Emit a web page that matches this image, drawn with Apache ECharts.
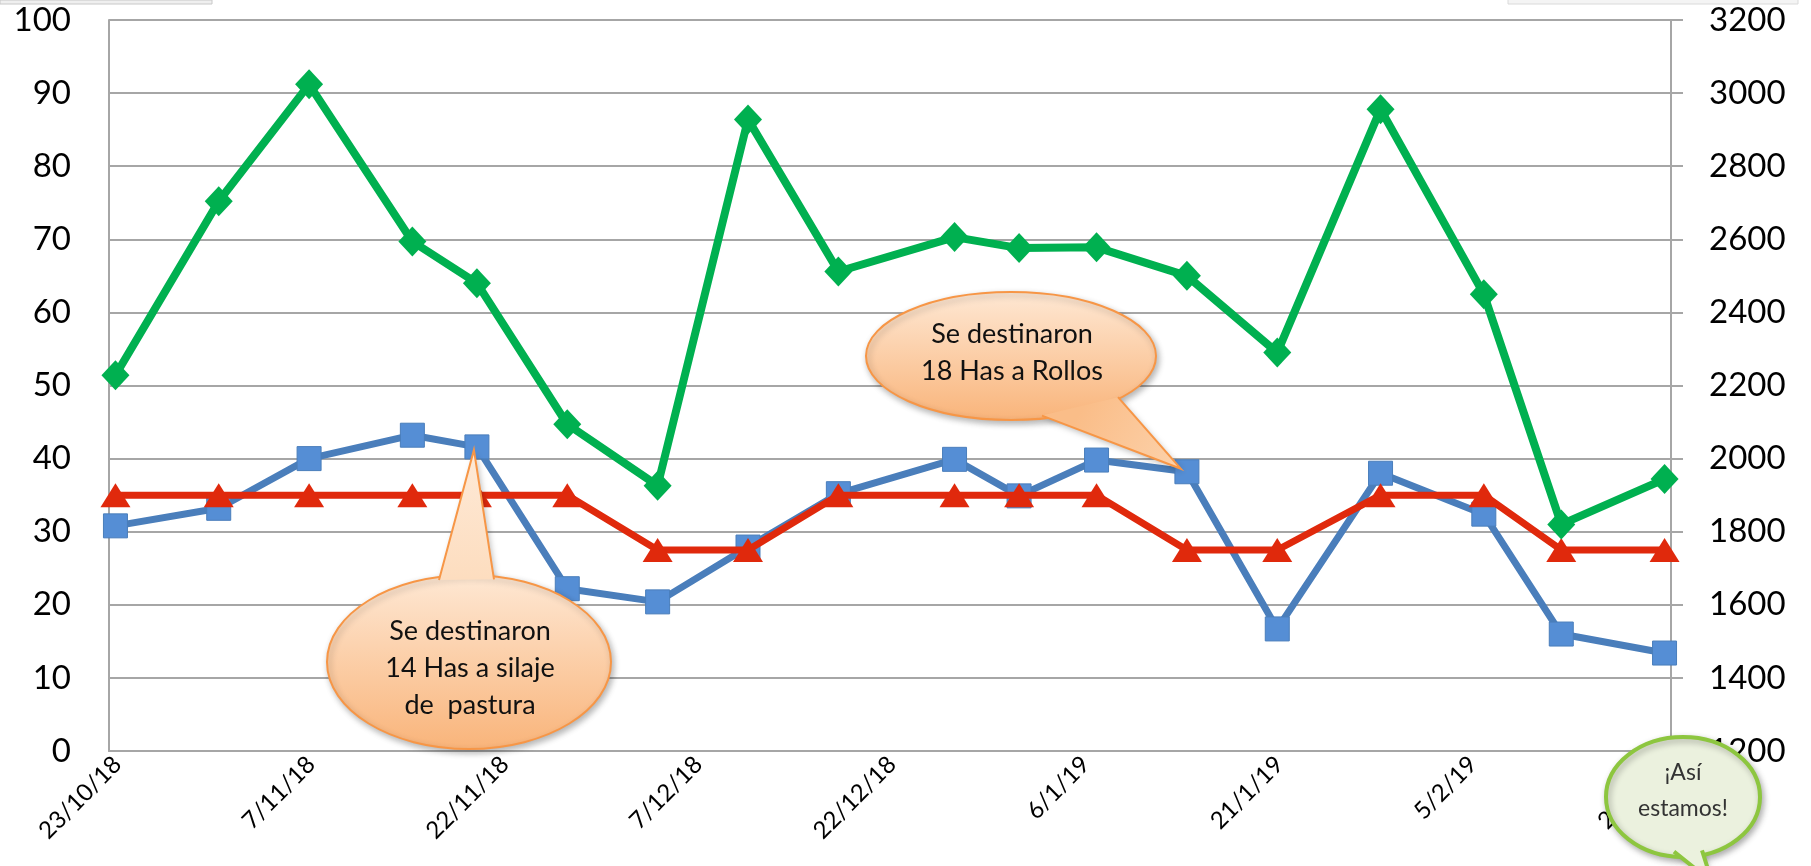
<!DOCTYPE html>
<html>
<head>
<meta charset="utf-8">
<script src="https://cdn.jsdelivr.net/npm/echarts@6/dist/echarts.min.js"></script>
<style>
html,body{margin:0;padding:0;background:#fff;}
#chart{width:1811px;height:866px;}
</style>
</head>
<body>
<div id="chart"></div>
<script>
// ---- data ----
const baseDate = '2018-10-23';
const xTickLabels = ['23/10/18','7/11/18','22/11/18','7/12/18','22/12/18','6/1/19','21/1/19','5/2/19','20/2/19'];
const dates = ['2018-10-23','2018-10-31','2018-11-07','2018-11-15','2018-11-20','2018-11-27','2018-12-04','2018-12-11','2018-12-18','2018-12-27','2019-01-01','2019-01-07','2019-01-14','2019-01-21','2019-01-29','2019-02-06','2019-02-12','2019-02-20'];
const growth = [30.8,33.2,40.0,43.2,41.6,22.2,20.4,27.9,35.2,39.9,34.9,39.8,38.2,16.7,38.0,32.4,16.0,13.4];
const demand = [35,35,35,35,35,35,27.5,27.5,35,35,35,35,27.5,27.5,35,35,27.5,27.5];
const cover = [2228,2704,3024,2594,2480,2094,1926,2928,2512,2606,2576,2578,2500,2290,2956,2450,1820,1944];
const leftTicks = {min:0, max:100, interval:10};
const rightTicks = {min:1200, max:3200, interval:200};
const note1 = ['Se destinaron','14 Has a silaje','de  pastura'];
const note2 = ['Se destinaron','18 Has a Rollos'];
const note3 = ['¡Así','estamos!'];

// ---- helpers ----
const DAY = 86400000;
function dayOf(s){ const p = s.split('-').map(Number); const b = baseDate.split('-').map(Number);
  return (Date.UTC(p[0],p[1]-1,p[2]) - Date.UTC(b[0],b[1]-1,b[2]))/DAY; }
// Excel date axis: each day occupies one unit, point drawn at the middle of its day
const xs = dates.map(d => dayOf(d) + 0.5);
const pts = arr => arr.map((v,i) => [xs[i], v]);

const FONT = 'Lato, "Open Sans", sans-serif';
const chart = echarts.init(document.getElementById('chart'), null, {renderer:'canvas'});

const option = {
  animation:false,
  backgroundColor:'#ffffff',
  grid:{left:109, right:140, top:20, bottom:115, containLabel:false},
  xAxis:{
    type:'value', min:0, max:121, interval:15,
    axisLine:{show:true, lineStyle:{color:'#A6A6A6', width:2}},
    axisTick:{show:false},
    splitLine:{show:false},
    axisLabel:{
      rotate:45, margin:1, fontSize:24, color:'#000', fontFamily:FONT,
      verticalAlign:'top',
      showMaxLabel:false,
      formatter: v => (v % 15 === 0 && xTickLabels[v/15]) ? xTickLabels[v/15] : ''
    }
  },
  yAxis:[
    {type:'value', min:leftTicks.min, max:leftTicks.max, interval:leftTicks.interval,
     axisLine:{show:true, lineStyle:{color:'#A6A6A6', width:2}},
     axisTick:{show:false},
     splitLine:{show:true, lineStyle:{color:'#A6A6A6', width:2}},
     axisLabel:{fontSize:33, color:'#000', margin:38, fontFamily:FONT}},
    {type:'value', min:rightTicks.min, max:rightTicks.max, interval:rightTicks.interval,
     position:'right',
     axisLine:{show:true, lineStyle:{color:'#A6A6A6', width:2}},
     axisTick:{show:true, inside:false, length:12, lineStyle:{color:'#A6A6A6', width:2}},
     splitLine:{show:false},
     axisLabel:{fontSize:33, color:'#000', margin:38, fontFamily:FONT, formatter: v => String(v)}}
  ],
  series:[
    {name:'growth', type:'line', yAxisIndex:0, data:pts(growth), z:2,
     symbol:'rect', symbolSize:24, showAllSymbol:true,
     lineStyle:{color:'#4A7EBB', width:7},
     itemStyle:{color:'#558ED5', borderColor:'#4A7EBB', borderWidth:1}},
    {name:'demand', type:'line', yAxisIndex:0, data:pts(demand), z:3,
     symbol:'triangle', symbolSize:[30,24], showAllSymbol:true,
     lineStyle:{color:'#E0290C', width:7},
     itemStyle:{color:'#E0290C'}},
    {name:'cover', type:'line', yAxisIndex:1, data:pts(cover), z:4,
     symbol:'diamond', symbolSize:[28,30], showAllSymbol:true,
     lineStyle:{color:'#00B050', width:8},
     itemStyle:{color:'#00B050'}}
  ]
};
chart.setOption(option);

// ---- annotations (speech callouts) ----
// base of the tail sits on the ellipse border at the given x positions (top or bottom side)
function onEllipse(o, x, side, inset){
  const k = Math.max(0, 1 - Math.pow((x - o.cx)/o.rx, 2));
  return [x, o.cy + side*(o.ry - inset)*Math.sqrt(k)];
}
function callout(o){
  const els = [];
  const b1 = onEllipse(o, o.bx[0], o.side, o.lw + 1);
  const b2 = onEllipse(o, o.bx[1], o.side, o.lw + 1);
  const shadow = {shadowBlur:6, shadowColor:'rgba(0,0,0,0.28)', shadowOffsetX:2, shadowOffsetY:3};
  // shadow-only tail beneath
  els.push({type:'polygon', z:100, shape:{points:[b1,b2,o.tip]},
    style:Object.assign({fill:o.tailFill}, shadow)});
  els.push({type:'ellipse', z:101, shape:{cx:o.cx, cy:o.cy, rx:o.rx, ry:o.ry},
    style:Object.assign({fill:o.fill, stroke:o.stroke, lineWidth:o.lw}, shadow)});
  // tail fill on top, hiding the ellipse border where they join
  els.push({type:'polygon', z:102, shape:{points:[b1,b2,o.tip]}, style:{fill:o.tailFill}});
  els.push({type:'polyline', z:103, shape:{points:[b1,o.tip,b2]},
    style:{fill:null, stroke:o.stroke, lineWidth:o.lw, lineJoin:'miter'}});
  o.lines.forEach((t,i)=>{
    els.push({type:'text', z:104, x:o.tx, y:o.ty + i*o.lh,
      style:{text:t, fill:o.color, font: o.fs+'px '+FONT, textAlign:'center', textVerticalAlign:'middle'}});
  });
  return els;
}

function drawNotes(){
  const tip1 = chart.convertToPixel({gridIndex:0}, [xs[4], growth[4]]);
  const tip2 = chart.convertToPixel({gridIndex:0}, [xs[12], growth[12]]);
  const orangeGrad = {type:'linear', x:0, y:0, x2:0, y2:1,
    colorStops:[{offset:0, color:'#FEE8D4'},{offset:1, color:'#F9B47A'}]};
  const g = [];
  // top fragments of surrounding slide objects
  g.push({type:'rect', z:90, shape:{x:0, y:0, width:212, height:4}, style:{fill:'#EFEFEF', stroke:'#C8C8C8', lineWidth:1}});
  g.push({type:'rect', z:90, shape:{x:1508, y:-2, width:290, height:6}, style:{fill:'#F4F4F4', stroke:'#DADADA', lineWidth:1}});
  const c1 = {cx:469, cy:662, rx:142, ry:87};
  g.push(...callout(Object.assign(c1, {fill:orangeGrad,
    tailFill:{type:'linear', global:true, x:0, y:tip1[1], x2:0, y2:c1.cy - c1.ry + 4,
      colorStops:[{offset:0,color:'#FEEAD8'},{offset:1,color:'#FDDDBF'}]},
    stroke:'#F79646', lw:2, bx:[439,494], side:-1, tip:[tip1[0]-3, tip1[1]+3],
    lines:note1, tx:470, ty:631, lh:37, fs:27, color:'#111'})));
  const c2 = {cx:1011, cy:356, rx:145, ry:64};
  const t2 = [tip2[0]-6, tip2[1]-3];
  g.push(...callout(Object.assign(c2, {fill:orangeGrad,
    tailFill:{type:'linear', global:true, x:1080, y:412, x2:t2[0], y2:t2[1],
      colorStops:[{offset:0,color:'#FABD88'},{offset:1,color:'#FCD2AB'}]},
    stroke:'#F79646', lw:2, bx:[1042,1118], side:1, tip:t2,
    lines:note2, tx:1012, ty:334, lh:37, fs:27, color:'#111'})));
  const c3 = {cx:1683, cy:797, rx:77, ry:60};
  g.push(...callout(Object.assign(c3, {fill:'#EBF1DE', tailFill:'#EBF1DE',
    stroke:'#8DC63F', lw:4, bx:[1674,1702], side:1, tip:[1712,882],
    lines:note3, tx:1683, ty:773, lh:36, fs:23, color:'#333'})));
  chart.setOption({graphic:{elements:g}});
}
drawNotes();
</script>
</body>
</html>
